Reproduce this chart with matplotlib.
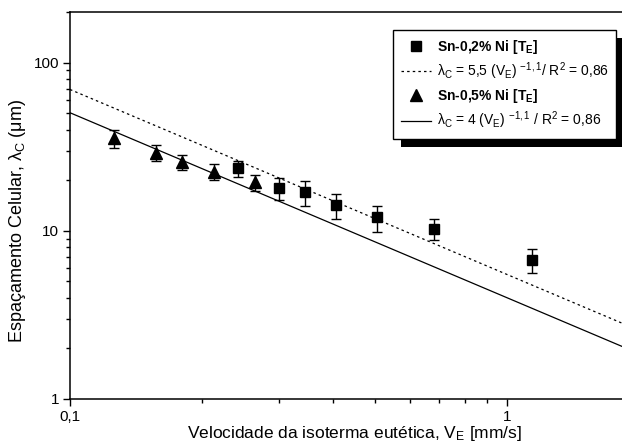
import numpy as np
import matplotlib
matplotlib.use("Agg")
import matplotlib.pyplot as plt
from matplotlib.ticker import FixedLocator, FuncFormatter, LogLocator, NullFormatter
from matplotlib.patches import Rectangle
from matplotlib.lines import Line2D

plt.rcParams['font.family'] = ['Liberation Sans', 'DejaVu Sans']
plt.rcParams['mathtext.fontset'] = 'custom'
plt.rcParams['mathtext.rm'] = 'Liberation Sans'
plt.rcParams['mathtext.it'] = 'Liberation Sans:italic'
plt.rcParams['mathtext.bf'] = 'Liberation Sans:bold'

# Sn-0,2% Ni [T_E]
v_02 = [0.242, 0.301, 0.345, 0.406, 0.504, 0.681, 1.14]
lam_02 = [23.5, 17.9, 16.9, 14.2, 12.0, 10.3, 6.7]
err_02 = [2.5, 2.7, 2.8, 2.4, 2.1, 1.45, 1.05]

# Sn-0,5% Ni [T_E]
v_05 = [0.126, 0.157, 0.180, 0.214, 0.265]
lam_05 = [35.4, 29.2, 25.5, 22.5, 19.4]
err_05 = [4.2, 3.3, 2.6, 2.5, 2.2]

# fits: lambda_C = a * V_E ** b
fit_a_02, fit_a_05, fit_b = 5.5, 4.0, -1.1
fit_v = np.array([0.1, 2.0])

lbl_02 = r'Sn-0,2% Ni [T$_\mathbf{E}$]'
lbl_05 = r'Sn-0,5% Ni [T$_\mathbf{E}$]'
lbl_fit_02 = r'λ$_\mathrm{C}$ = 5,5 (V$_\mathrm{E}$) $^{\mathrm{-1,1}}$/ R$^\mathrm{2}$ = 0,86'
lbl_fit_05 = r'λ$_\mathrm{C}$ = 4 (V$_\mathrm{E}$) $^{\mathrm{-1,1}}$ / R$^\mathrm{2}$ = 0,86'

fig = plt.figure(figsize=(6.22, 4.43), dpi=100)
ax = fig.add_axes([70 / 622, 44 / 443, 568.6 / 622, 387 / 443])
ax.set_xscale('log')
ax.set_yscale('log')

dotted = (0, (2, 2.5))
ax.plot(fit_v, fit_a_02 * fit_v ** fit_b, color='black', lw=0.9, linestyle=dotted)
ax.plot(fit_v, fit_a_05 * fit_v ** fit_b, color='black', lw=0.9)
ax.errorbar(v_02, lam_02, yerr=err_02, fmt='s', color='black', ms=6.5,
            capsize=3.5, elinewidth=1, capthick=1)
ax.errorbar(v_05, lam_05, yerr=err_05, fmt='^', color='black', ms=8,
            capsize=3.5, elinewidth=1, capthick=1)

ax.set_xlim(0.1, 2.0)
ax.set_ylim(1, 200)

ax.xaxis.set_major_locator(FixedLocator([0.1, 1]))
ax.xaxis.set_minor_locator(LogLocator(base=10, subs=np.arange(2, 10)))
ax.xaxis.set_minor_formatter(NullFormatter())
ax.yaxis.set_major_locator(FixedLocator([1, 10, 100]))
ax.yaxis.set_minor_locator(LogLocator(base=10, subs=np.arange(2, 10)))
ax.yaxis.set_minor_formatter(NullFormatter())
fmt = FuncFormatter(lambda v, p: ('%g' % v).replace('.', ','))
ax.xaxis.set_major_formatter(fmt)
ax.yaxis.set_major_formatter(fmt)

ax.tick_params(which='both', direction='out', top=False, right=False, labelsize=11, width=1)
ax.tick_params(which='major', length=5, pad=3)
ax.tick_params(which='minor', length=3)
for s in ax.spines.values():
    s.set_linewidth(1.1)

ax.set_xlabel(r'Velocidade da isoterma eutética, V$_\mathrm{E}$ [mm/s]', fontsize=12.5, labelpad=0)
ax.set_ylabel(r'Espaçamento Celular, λ$_\mathrm{C}$ (μm)', fontsize=13)
ax.yaxis.set_label_coords(-0.074, 0.46)

handles = [Line2D([], [], marker='s', ms=6.5, color='black', ls='none'),
           Line2D([], [], color='black', lw=0.9, ls=dotted),
           Line2D([], [], marker='^', ms=8, color='black', ls='none'),
           Line2D([], [], color='black', lw=0.9)]
labels = [lbl_02, lbl_fit_02, lbl_05, lbl_fit_05]
leg = fig.legend(handles, labels, loc='upper left', bbox_to_anchor=(393 / 622, 1 - 30 / 443),
                 frameon=True, fancybox=False, edgecolor='black', framealpha=1,
                 fontsize=10, handlelength=2.2, handletextpad=0.4, labelspacing=0.35,
                 borderpad=0.55, borderaxespad=0)
leg.get_frame().set_linewidth(1)
leg.get_texts()[0].set_fontweight('bold')
leg.get_texts()[2].set_fontweight('bold')

fig.canvas.draw()
bb = leg.get_window_extent().transformed(fig.transFigure.inverted())
fig.patches.append(Rectangle((bb.x0 + 8 / 622, bb.y0 - 8 / 443), bb.width, bb.height,
                             transform=fig.transFigure, facecolor='black', zorder=leg.get_zorder() - 1))

fig.savefig('out.png', dpi=100)
